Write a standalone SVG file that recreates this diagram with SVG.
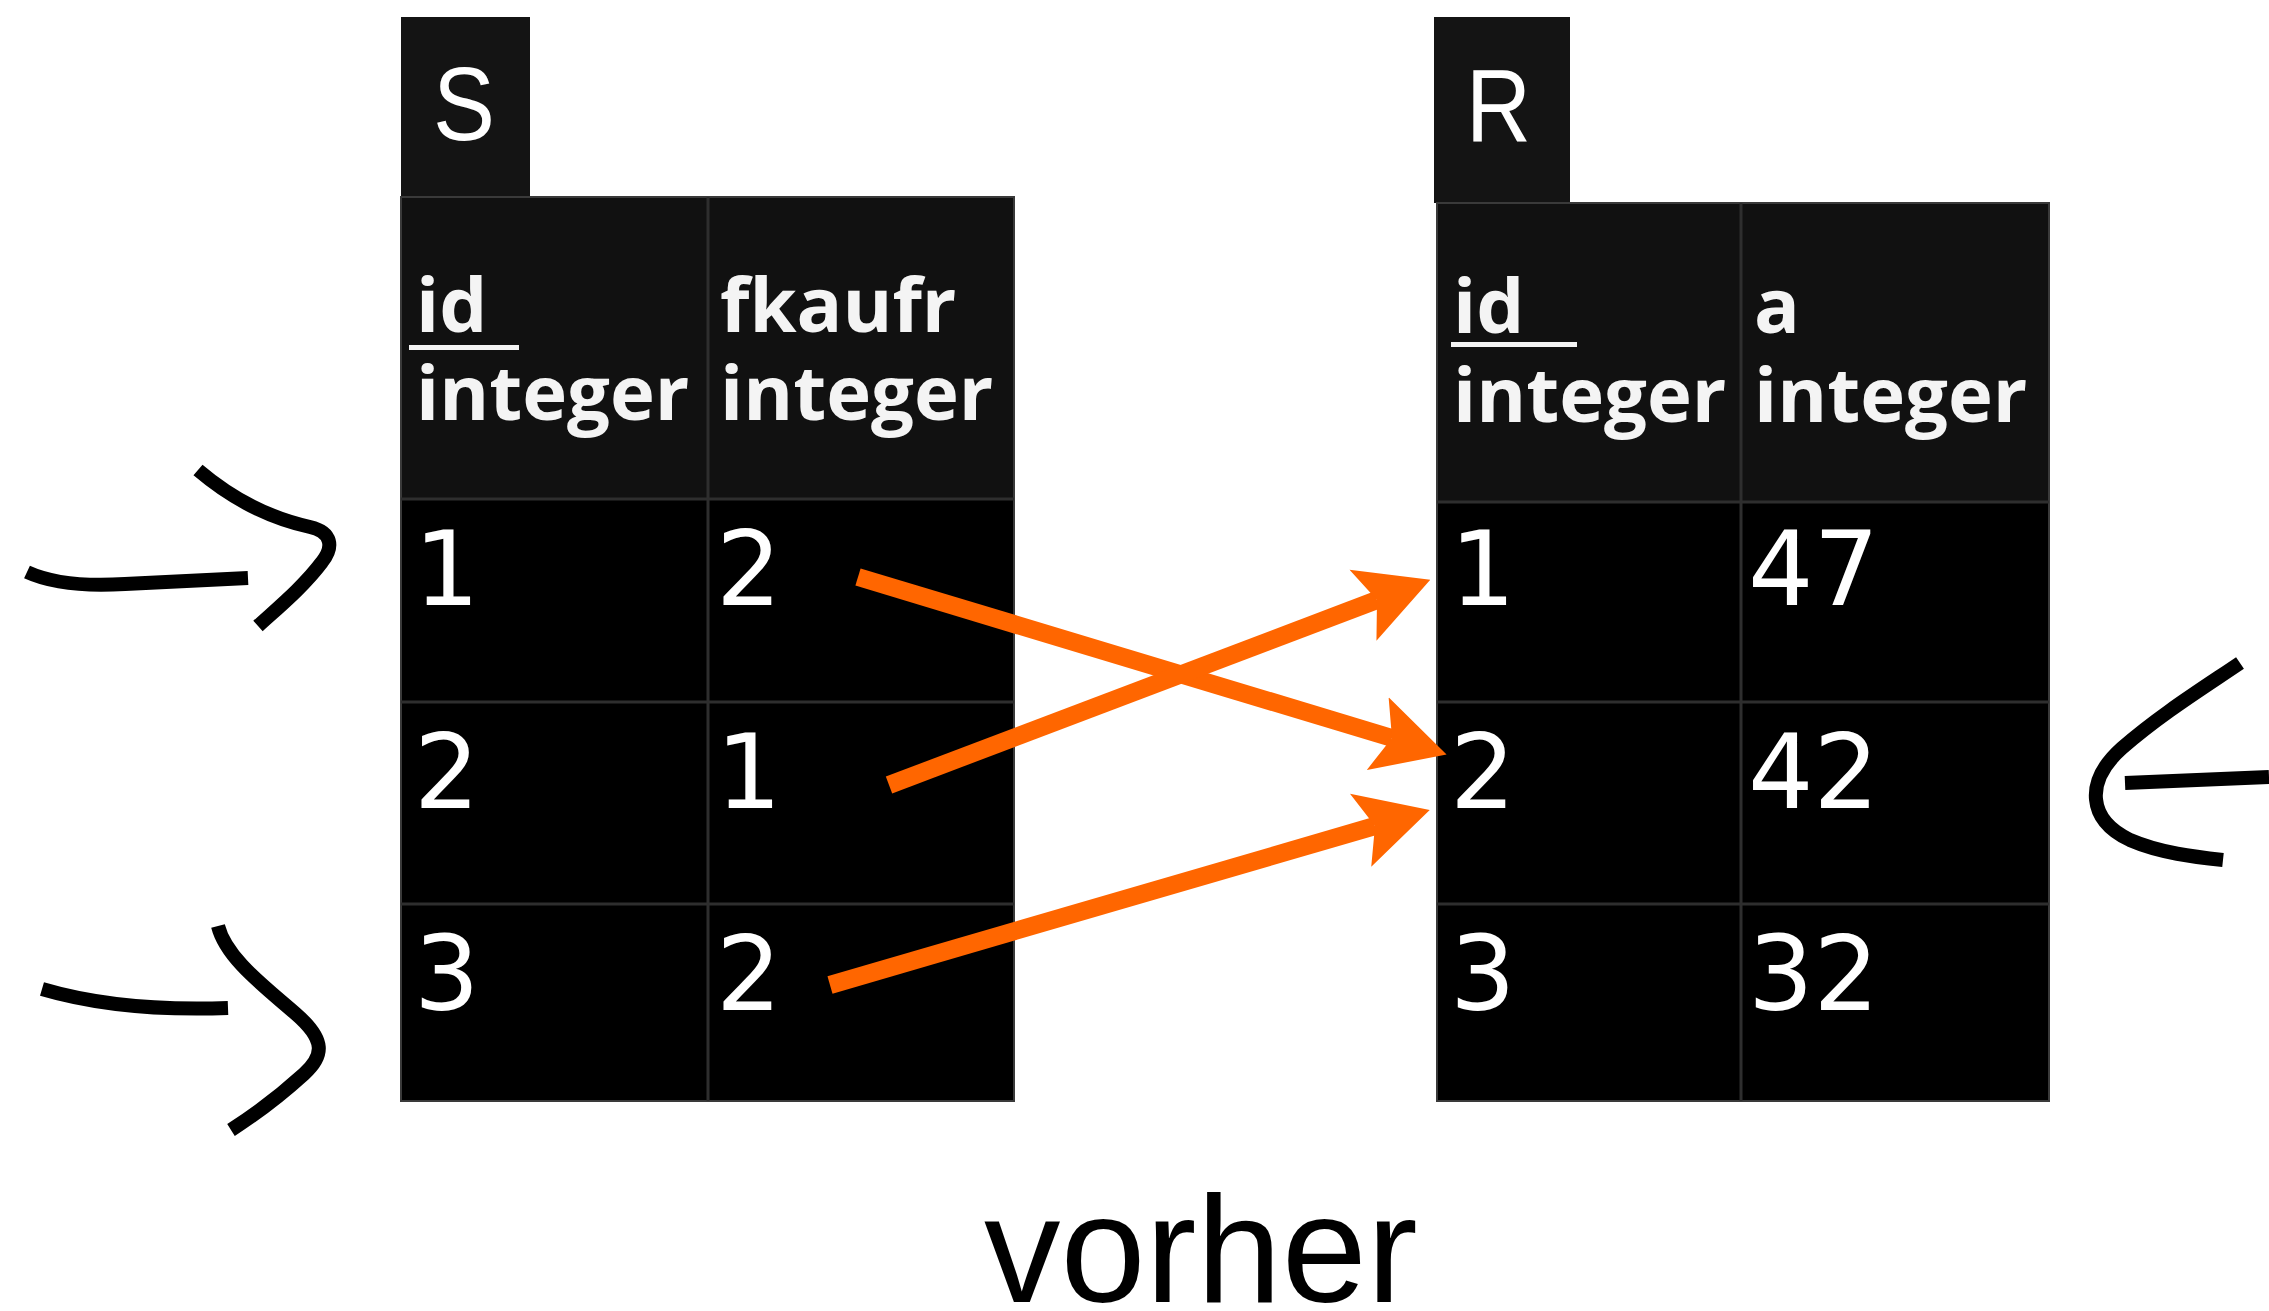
<svg xmlns="http://www.w3.org/2000/svg" width="2269" height="1311" viewBox="0 0 2269 1311">
  <style>
    .tab { fill: #141414; }
    .head { fill: #111111; }
    .body { fill: #000000; stroke: #3a3a3a; stroke-width: 2; }
    .grid { stroke: #2e2e2e; stroke-width: 3; fill: none; }
    .title { font-family: "Liberation Sans", Arial, sans-serif; font-size: 104px; fill: #ffffff; }
    .col { font-family: "Open Sans", "Liberation Sans", sans-serif; font-weight: 700; font-size: 76px; fill: #f4f4f4; }
    .val { font-family: "DejaVu Sans", sans-serif; font-size: 103px; fill: #ffffff; }
    .uline { fill: #f4f4f4; }
    .link { stroke: #ff6600; stroke-width: 18; fill: none; }
    .hand { stroke: #000000; stroke-width: 14; fill: none; stroke-linejoin: round; }
    .caption { font-family: "Liberation Sans", Arial, sans-serif; font-size: 153px; fill: #000000; }
  </style>
  <defs>
    <marker id="orangeHead" markerUnits="userSpaceOnUse" markerWidth="72" markerHeight="78" viewBox="0 0 72 78" refX="15" refY="39" orient="auto">
      <path d="M0,1 L72,39 L0,77 L15,39 Z" fill="#ff6600"/>
    </marker>
  </defs>

  <rect width="2269" height="1311" fill="#ffffff"/>

  <!-- table S -->
  <g id="table-S">
    <rect class="tab" x="401" y="17" width="129" height="185"/>
    <text class="title" x="433" y="140" textLength="62" lengthAdjust="spacingAndGlyphs">S</text>
    <rect class="body" x="401" y="197" width="613" height="904"/>
    <rect class="head" x="402" y="198" width="611" height="301"/>
    <path class="grid" d="M708,197 V1101 M401,499 H1014 M401,702 H1014 M401,904 H1014"/>
    <text class="col" x="416" y="332">id</text>
    <rect class="uline" x="409" y="345" width="110" height="5"/>
    <text class="col" x="416" y="420">integer</text>
    <text class="col" x="720" y="332">fkaufr</text>
    <text class="col" x="720" y="420">integer</text>
    <text class="val" x="414" y="605">1</text>
    <text class="val" x="716" y="605">2</text>
    <text class="val" x="414" y="808">2</text>
    <text class="val" x="716" y="808">1</text>
    <text class="val" x="414" y="1010">3</text>
    <text class="val" x="716" y="1010">2</text>
  </g>

  <!-- table R -->
  <g id="table-R">
    <rect class="tab" x="1434" y="17" width="136" height="186"/>
    <text class="title" x="1466" y="142" textLength="65" lengthAdjust="spacingAndGlyphs">R</text>
    <rect class="body" x="1437" y="203" width="612" height="898"/>
    <rect class="head" x="1438" y="204" width="610" height="298"/>
    <path class="grid" d="M1741,203 V1101 M1437,502 H2049 M1437,702 H2049 M1437,904 H2049"/>
    <text class="col" x="1453" y="333">id</text>
    <rect class="uline" x="1451" y="342" width="126" height="5"/>
    <text class="col" x="1453" y="422">integer</text>
    <text class="col" x="1754" y="333">a</text>
    <text class="col" x="1754" y="422">integer</text>
    <text class="val" x="1450" y="605">1</text>
    <text class="val" x="1748" y="605">47</text>
    <text class="val" x="1450" y="808">2</text>
    <text class="val" x="1748" y="808">42</text>
    <text class="val" x="1450" y="1010">3</text>
    <text class="val" x="1748" y="1010">32</text>
  </g>

  <!-- foreign key references -->
  <g id="connectors">
    <path class="link" d="M858,577 L1392,738" marker-end="url(#orangeHead)"/>
    <path class="link" d="M889,785 L1377,600" marker-end="url(#orangeHead)"/>
    <path class="link" d="M830,985 L1375,826" marker-end="url(#orangeHead)"/>
  </g>

  <!-- hand-drawn pointers -->
  <g id="pointer-top-left">
    <path class="hand" d="M27,572 Q62,588 125,584 L248,578"/>
    <path class="hand" d="M198,470 C238,504 278,520 310,527 C332,532 334,547 322,562 C304,586 280,606 258,626"/>
  </g>
  <g id="pointer-bottom-left">
    <path class="hand" d="M42,989 Q120,1012 228,1008"/>
    <path class="hand" d="M218,926 C226,958 264,986 296,1014 C326,1040 324,1056 304,1074 C282,1094 256,1114 231,1130"/>
  </g>
  <g id="pointer-right">
    <path class="hand" d="M2125,783 L2269,777"/>
    <path class="hand" d="M2240,663 C2200,690 2160,715 2122,748 C2084,782 2088,820 2130,840 C2160,853 2195,857 2223,860"/>
  </g>

  <text id="caption" class="caption" x="984" y="1302">vorher</text>
</svg>
